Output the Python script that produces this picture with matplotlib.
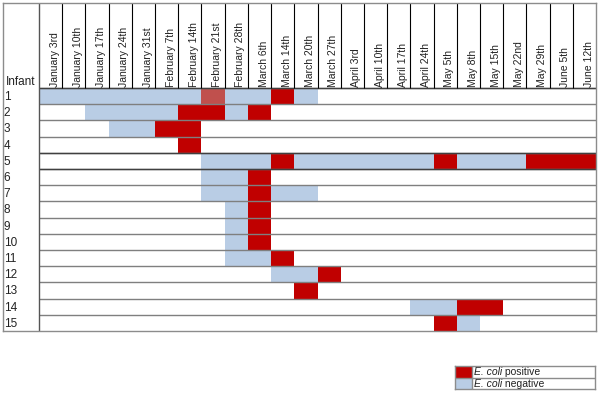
import matplotlib
matplotlib.use("Agg")
import matplotlib.pyplot as plt

# sampling dates (weekly columns)
dates = ["January 3rd", "January 10th", "January 17th", "January 24th", "January 31st",
         "February 7th", "February 14th", "February 21st", "February 28th", "March 6th",
         "March 14th", "March 20th", "March 27th", "April 3rd", "April 10th", "April 17th",
         "April 24th", "May 5th", "May 8th", "May 15th", "May 22nd", "May 29th",
         "June 5th", "June 12th"]
infants = [str(i) for i in range(1, 16)]
# n = E. coli negative, p = E. coli positive, x = positive (shaded), . = no sample
status = [
    "nnnnnnnxnnpn............",
    "..nnnnppnp..............",
    "...nnpp.................",
    "......p.................",
    ".......nnnpnnnnnnpnnnppp",
    ".......nnp..............",
    ".......nnpnn............",
    "........np..............",
    "........np..............",
    "........np..............",
    "........nnp.............",
    "..........nnp...........",
    "...........p............",
    "................nnpp....",
    ".................pn.....",
]
legend_keys = ["p", "n"]
legend_words = ["positive", "negative"]

colors = {"n": "#B9CDE5", "p": "#C00000", "x": "#C0504D"}
FONT = ["Liberation Sans Narrow", "Liberation Sans", "DejaVu Sans"]
plt.rcParams["font.family"] = FONT
TXT = "#222222"

W, H = 600, 400
fig = plt.figure(figsize=(6, 4), dpi=100)

# table axes: pixels x 3..596, y 3..331
col_w, row_h = 23.2, 16.2
x0, x1, y0, y1 = 3, 596, 3, 331
ax = fig.add_axes([x0 / W, 1 - y1 / H, (x1 - x0) / W, (y1 - y0) / H])
label_w = -(39 - x0) / col_w
head_h = -(88 - y0) / row_h
ax.set_xlim(label_w, len(dates))
ax.set_ylim(len(infants), head_h)
ax.set_xticks([])
ax.set_yticks([])
for s in ax.spines.values():
    s.set_color("#8c8c8c")
    s.set_linewidth(1)

for i, row in enumerate(status):
    for j, c in enumerate(row):
        if c != ".":
            ax.barh(i + 0.5, 1, left=j, height=1, color=colors[c], linewidth=0)

# grid lines
ax.hlines(range(0, len(infants)), 0, len(dates), color="#7f7f7f", lw=1)
ax.hlines([0, 4, 5], 0, len(dates), color="#404040", lw=1)
ax.vlines(range(1, len(dates)), head_h, 0, color="black", lw=0.8)
ax.vlines(0, head_h, len(infants), color="#555555", lw=1)

for j, d in enumerate(dates):
    ax.text(j + 0.68, -0.05, d, rotation=90, ha="center", va="bottom",
            fontsize=7.5, color=TXT)
for i, lab in enumerate(infants):
    ax.text(label_w + 0.03, i + 0.55, lab, ha="left", va="center",
            fontsize=8.5, color=TXT)
ax.text(label_w + 0.12, -0.35, "Infant", ha="left", va="center",
        fontsize=8.5, color=TXT)

# legend table: pixels x 455..595, y 366..389
lx0, lx1, ly0, ly1 = 455, 595, 366, 389
lax = fig.add_axes([lx0 / W, 1 - ly1 / H, (lx1 - lx0) / W, (ly1 - ly0) / H])
sw = 17 / (lx1 - lx0)
lax.set_xlim(0, 1)
lax.set_ylim(len(legend_keys), 0)
lax.set_xticks([])
lax.set_yticks([])
for s in lax.spines.values():
    s.set_color("#8c8c8c")
    s.set_linewidth(1)
for k, (key, word) in enumerate(zip(legend_keys, legend_words)):
    lax.barh(k + 0.5, sw, left=0, height=1, color=colors[key], linewidth=0)
    t = lax.text(sw + 0.015, k + 0.55, "E. coli", ha="left", va="center",
                 fontsize=7.5, style="italic", color=TXT)
    lax.annotate(" " + word, xy=(1, 0.5), xycoords=t, ha="left", va="center",
                 fontsize=7.5, color=TXT)
lax.hlines(1, 0, 1, color="#8c8c8c", lw=1)
lax.vlines(sw, 0, 2, color="#8c8c8c", lw=1)

fig.savefig("out.png", dpi=100)
